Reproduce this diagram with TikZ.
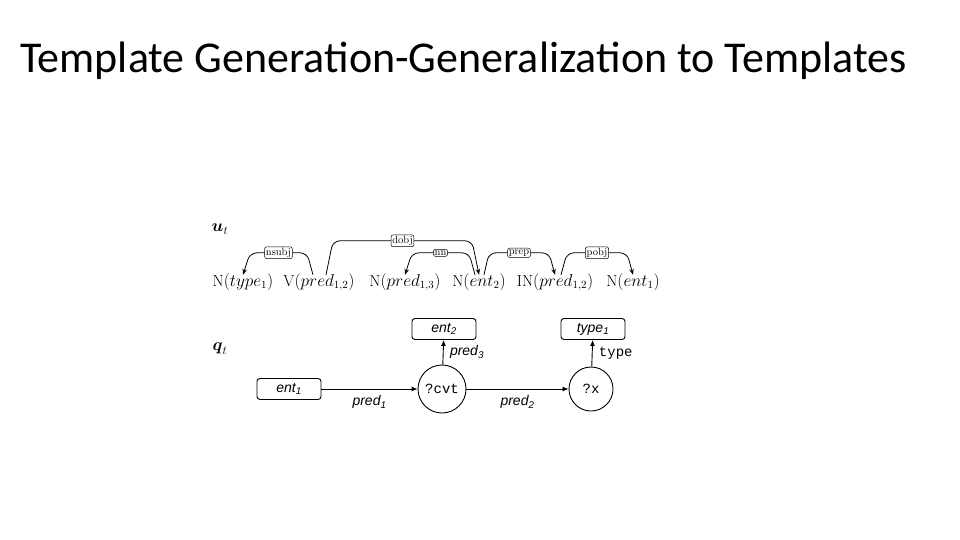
\documentclass[tikz,border=0pt]{standalone}
\usepackage{fontspec}
\usepackage{amsmath,amssymb}
\setmonofont{Liberation Mono}
\newfontfamily\titlefont{Carlito}
\newfontfamily\arialfont{Liberation Sans}
\usetikzlibrary{arrows.meta, positioning, calc}
\tikzset{
  every node/.style={font=\small},
  word/.style   = {inner sep=0pt, text height=11pt, text depth=4pt,
                   font=\fontsize{16}{18}\selectfont},
  deplab/.style = {rectangle, rounded corners=2pt, draw=black, fill=white, line width=0.5pt,
                   inner sep=1.2pt, font=\fontsize{10.5}{11}\selectfont},
  dep/.style    = {-{Stealth[length=6pt,width=4.5pt]}, line width=0.8pt, rounded corners=7pt},
  ent/.style    = {rectangle, rounded corners=3pt, draw, line width=0.9pt,
                   minimum width=64pt, minimum height=21pt, inner sep=2pt,
                   font=\arialfont\itshape\fontsize{14}{16}\selectfont},
  var/.style    = {circle, draw, line width=0.9pt, minimum size=46pt, inner sep=0pt,
                   font=\ttfamily\fontsize{14}{16}\selectfont},
  arrow/.style  = {-{Latex[length=6pt,width=5pt]}, line width=0.9pt},
  rel/.style    = {font=\arialfont\itshape\fontsize{14}{16}\selectfont},
  title/.style  = {font=\titlefont\fontsize{44}{48}\selectfont, anchor=base west, inner sep=0pt},
}

\begin{document}
\begin{tikzpicture}[x=1pt, y=-1pt]
  \useasboundingbox (0,0) rectangle (960,540);
  \node[title] (ttl) at (20,73) {Template Generation-Generalization to Templates};

  % dependency parse u_t
  \node[font=\fontsize{18}{20}\selectfont] (ut) at (220,229) {$\boldsymbol{u}_t$};
  \node[word, anchor=base] (w1) at (243,286) {N$(type_1)$};
  \node[word, anchor=base] (w2) at (319,286) {V$(pred_{1,2})$};
  \node[word, anchor=base] (w3) at (405,286) {N$(pred_{1,3})$};
  \node[word, anchor=base] (w4) at (479,286) {N$(ent_2)$};
  \node[word, anchor=base] (w5) at (555,286) {IN$(pred_{1,2})$};
  \node[word, anchor=base] (w6) at (633,286) {N$(ent_1)$};

  \draw[dep] ([xshift=-6pt]w2.north) -- ++(-6,-22)
    -- node[deplab] {nsubj} ([xshift=7pt,yshift=22pt]w1.north) -- (w1.north);
  \draw[dep] ([xshift=7pt]w2.north) -- ++(7,-34)
    -- node[deplab] {dobj} ([xshift=-7pt,yshift=34pt]w4.north) -- (w4.north);
  \draw[dep] ([xshift=-4pt]w4.north) -- ++(-6,-22)
    -- node[deplab] {nn} ([xshift=7pt,yshift=22pt]w3.north) -- (w3.north);
  \draw[dep] ([xshift=5pt]w4.north) -- ++(5,-22)
    -- node[deplab] {prep} ([xshift=-6pt,yshift=22pt]w5.north) -- (w5.north);
  \draw[dep] ([xshift=6pt]w5.north) -- ++(6,-22)
    -- node[deplab] {pobj} ([xshift=-6pt,yshift=22pt]w6.north) -- (w6.north);

  % query graph q_t
  \node[font=\fontsize{18}{20}\selectfont] (qt) at (220,349) {$\boldsymbol{q}_t$};
  \node[ent] (e1)  at (289,389) {ent\textsubscript{1}};
  \node[ent] (e2)  at (444,329) {ent\textsubscript{2}};
  \node[ent] (ty)  at (593,329) {type\textsubscript{1}};
  \node[var, minimum size=48pt] (cvt) at (442,389) {?cvt};
  \node[var, minimum size=44pt] (x)   at (591,389) {?x};

  \draw[arrow] (e1)  -- node[rel, below=3pt] {pred\textsubscript{1}} (cvt);
  \draw[arrow] (cvt) -- node[rel, below=3pt] {pred\textsubscript{2}} (x);
  \draw[arrow] (cvt) -- node[rel, right=3pt] {pred\textsubscript{3}} (e2);
  \draw[arrow] (x)   -- node[right=3pt, font=\ttfamily\fontsize{14}{16}\selectfont] {type} (ty);
\end{tikzpicture}
\end{document}
